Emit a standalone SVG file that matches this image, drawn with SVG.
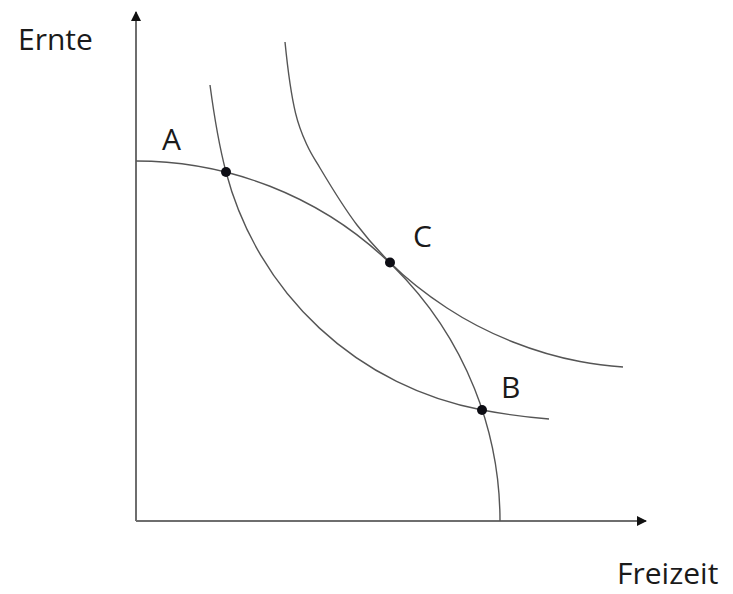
<svg xmlns="http://www.w3.org/2000/svg" width="733" height="594" viewBox="0 0 733 594">
<style>
.ax{stroke:#6e6e6e;stroke-width:2;fill:none}
.cv{stroke:#555;stroke-width:1.4;fill:none}
.lbl{font-family:"Open Sans","Liberation Sans",sans-serif;font-size:30px;fill:#1a1a1a}
.dot{fill:#0d0d14}
</style>
<defs>
<marker id="ah" markerWidth="10" markerHeight="10" refX="9" refY="5" orient="auto" markerUnits="userSpaceOnUse" viewBox="0 0 10 10">
<path d="M0,0 L10,5 L0,10 Z" fill="#111"/>
</marker>
</defs>
<rect width="733" height="594" fill="#fff"/>
<g id="axes">
<line class="ax" x1="136" y1="521" x2="136" y2="12" marker-end="url(#ah)"/>
<line class="ax" x1="136" y1="521" x2="646" y2="521" marker-end="url(#ah)"/>
</g>
<g id="connectors">
<path id="ppf" class="cv" d="M136,161 A364,360 0 0 1 500,521"/>
<path id="ic1" class="cv" d="M210,85 C215.33,125 220.67,151.73 226,172 A326.6,326.6 0 0 0 482,410 C504.33,414.17 526.67,417.21 549,419"/>
<path id="ic2" class="cv" d="M285,42 C292.33,115.3 299.7,128.9 307,145 C311.33,154.53 315.67,160.72 320,168 C332.33,188.72 344.67,208.72 357,225 C368,239.52 379,251.5 390,262.5 C409,281.5 428,295.54 447,308 C469,322.43 491,333.29 513,342 C535.33,350.84 557.67,357.37 580,361.5 C594.33,364.15 608.67,365.85 623,367"/>
</g>
<g id="A"><circle class="dot" cx="226" cy="172" r="5"/><text class="lbl" x="162" y="150">A</text></g>
<g id="C"><circle class="dot" cx="390" cy="262.5" r="5"/><text class="lbl" x="413" y="247">C</text></g>
<g id="B"><circle class="dot" cx="482" cy="410" r="5"/><text class="lbl" x="501" y="398">B</text></g>
<g id="ylabel"><text class="lbl" x="18" y="50">Ernte</text></g>
<g id="xlabel"><text class="lbl" x="617" y="584">Freizeit</text></g>
</svg>
